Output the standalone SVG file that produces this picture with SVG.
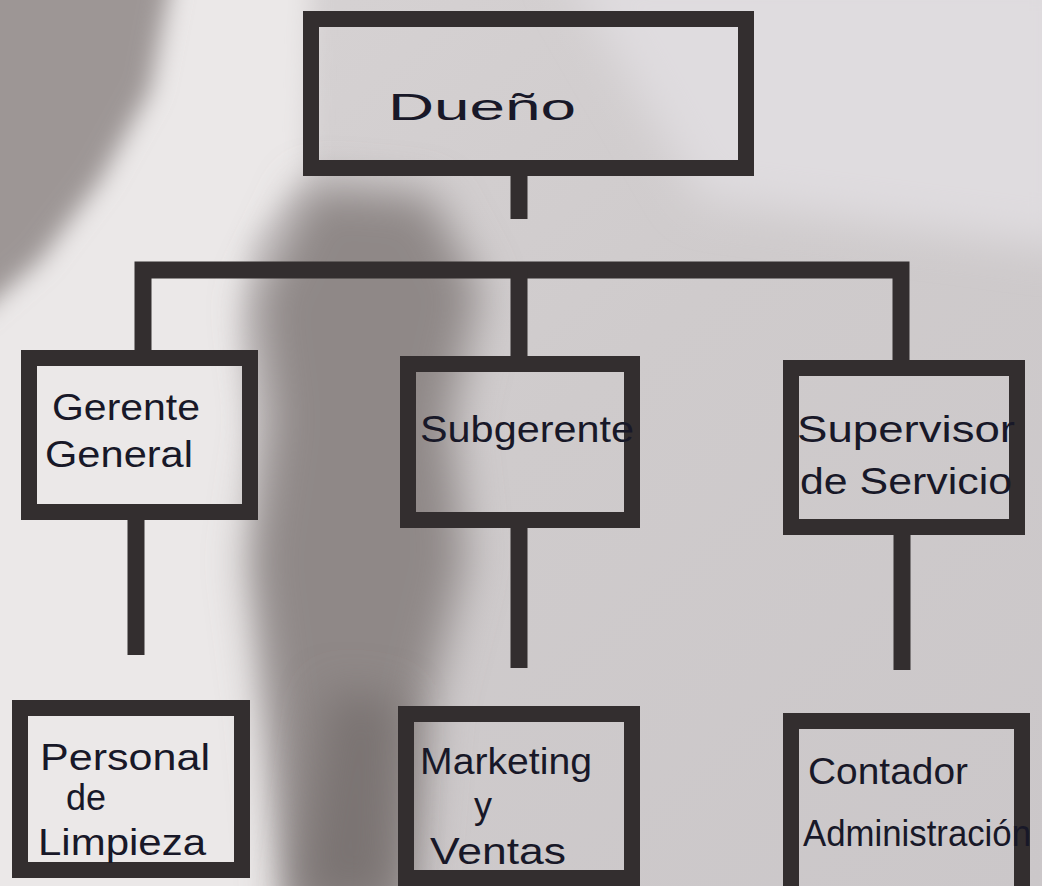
<svg xmlns="http://www.w3.org/2000/svg" width="1042" height="886" viewBox="0 0 1042 886">
  <defs>
    <filter id="blurL" x="-50%" y="-50%" width="200%" height="200%"><feGaussianBlur stdDeviation="22"/></filter>
    <filter id="blurM" x="-50%" y="-50%" width="200%" height="200%"><feGaussianBlur stdDeviation="12"/></filter>
    <linearGradient id="paper" x1="0" y1="0" x2="1" y2="1">
      <stop offset="0" stop-color="#d8d4d5"/>
      <stop offset="0.5" stop-color="#cfcbcc"/>
      <stop offset="1" stop-color="#cbc7c9"/>
    </linearGradient>
    <style>
      .box { fill: none; stroke: #332e2f; stroke-width: 16; }
      .link { fill: none; stroke: #332e2f; stroke-width: 17; stroke-linejoin: miter; }
      .lbl { font-family: "Liberation Sans", "DejaVu Sans", sans-serif; fill: #181828; font-size: 36px; }
    </style>
  </defs>

  <!-- paper and shadows -->
  <g id="background">
    <rect x="0" y="0" width="1042" height="886" fill="url(#paper)"/>
    <path d="M175,-40 L310,-40 L305,180 L250,240 L240,340 L255,520 L265,700 L290,930 L-40,930 L-40,330 Z" fill="#ebe8e8" filter="url(#blurM)"/>
    <path d="M-40,-40 L175,-40 L150,90 L100,180 L40,260 L-40,330 Z" fill="#9d9695" filter="url(#blurM)"/>
    <path d="M310,185 L430,195 L480,290 L450,420 L465,560 L430,700 L410,930 L290,930 L270,720 L250,560 L270,420 L255,300 Z" fill="#8f8887" filter="url(#blurL)"/>
    <path d="M330,690 L400,700 L390,900 L300,900 Z" fill="#7a7372" filter="url(#blurL)"/>
    <path d="M560,-40 L1080,-40 L1080,250 L700,200 Z" fill="#dfdcdf" filter="url(#blurL)"/>
  </g>

  <!-- connectors -->
  <g id="connectors">
    <path class="link" d="M519,175 V219"/>
    <path class="link" d="M143,352 V270 H901 V362"/>
    <path class="link" d="M519,270 V358"/>
    <path class="link" d="M136,520 V655"/>
    <path class="link" d="M519,528 V668"/>
    <path class="link" d="M902,535 V670"/>
  </g>

  <g id="duenio">
    <rect class="box" x="311" y="19" width="435" height="149"/>
    <text class="lbl" x="388" y="120" font-size="48" textLength="188" lengthAdjust="spacingAndGlyphs">Dueño</text>
  </g>

  <g id="gerente-general">
    <rect class="box" x="29" y="358" width="221" height="154"/>
    <text class="lbl" x="52" y="420" textLength="148" lengthAdjust="spacingAndGlyphs">Gerente</text>
    <text class="lbl" x="45" y="467" textLength="148" lengthAdjust="spacingAndGlyphs">General</text>
  </g>

  <g id="subgerente">
    <rect class="box" x="408" y="364" width="224" height="156"/>
    <text class="lbl" x="420" y="442" textLength="214" lengthAdjust="spacingAndGlyphs">Subgerente</text>
  </g>

  <g id="supervisor">
    <rect class="box" x="791" y="368" width="226" height="159"/>
    <text class="lbl" x="797" y="442" textLength="218" lengthAdjust="spacingAndGlyphs">Supervisor</text>
    <text class="lbl" x="800" y="494" textLength="212" lengthAdjust="spacingAndGlyphs">de Servicio</text>
  </g>

  <g id="personal-limpieza">
    <rect class="box" x="20" y="708" width="222" height="162"/>
    <text class="lbl" x="40" y="770" font-size="34" textLength="170" lengthAdjust="spacingAndGlyphs">Personal</text>
    <text class="lbl" x="66" y="810" font-size="26">de</text>
    <text class="lbl" x="38" y="855" font-size="34" textLength="168" lengthAdjust="spacingAndGlyphs">Limpieza</text>
  </g>

  <g id="marketing-ventas">
    <rect class="box" x="406" y="714" width="226" height="164"/>
    <text class="lbl" x="420" y="774" font-size="34" textLength="172" lengthAdjust="spacingAndGlyphs">Marketing</text>
    <text class="lbl" x="474" y="818" font-size="30">y</text>
    <text class="lbl" x="430" y="864" font-size="34" textLength="136" lengthAdjust="spacingAndGlyphs">Ventas</text>
  </g>

  <g id="contador-administracion">
    <rect class="box" x="791" y="721" width="231" height="173"/>
    <text class="lbl" x="808" y="784" textLength="160" lengthAdjust="spacingAndGlyphs">Contador</text>
    <text class="lbl" x="803" y="846" textLength="228" lengthAdjust="spacingAndGlyphs">Administración</text>
  </g>
</svg>
